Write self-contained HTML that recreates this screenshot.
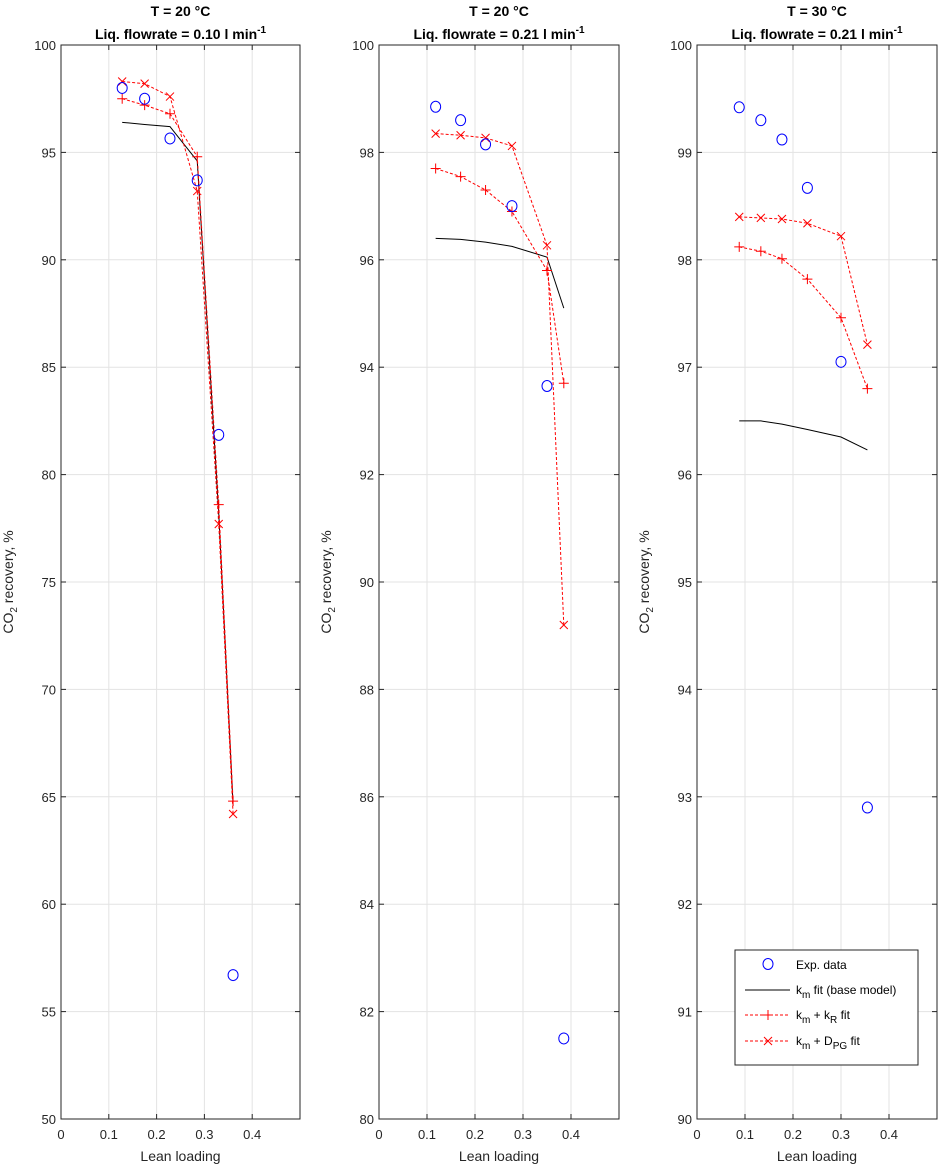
<!DOCTYPE html>
<html><head><meta charset="utf-8"><style>
body{margin:0;background:#fff;}
svg{display:block;font-family:"Liberation Sans",sans-serif;}
</style></head><body>
<svg id="chart" width="941" height="1167" xmlns="http://www.w3.org/2000/svg"></svg>
<script>
const xVals1=[0.128,0.175,0.228,0.285,0.33,0.36];
const exp1=[98.0,97.5,95.65,93.7,81.85,56.7];
const km1=[96.4,96.3,96.2,94.6,78.2,64.6];
const kr1=[97.5,97.2,96.8,94.8,78.6,64.8];
const dpg1=[98.3,98.2,97.6,93.2,77.7,64.2];
const xVals2=[0.118,0.17,0.222,0.277,0.35,0.385];
const exp2=[98.85,98.6,98.15,97.0,93.65,81.5];
const km2=[96.4,96.38,96.33,96.25,96.05,95.1];
const kr2=[97.7,97.55,97.3,96.9,95.8,93.7];
const dpg2=[98.35,98.32,98.27,98.12,96.27,89.2];
const xVals3=[0.088,0.133,0.177,0.23,0.3,0.355];
const exp3=[99.42,99.3,99.12,98.67,97.05,92.9];
const km3=[96.5,96.5,96.47,96.42,96.35,96.23];
const kr3=[98.12,98.08,98.01,97.82,97.46,96.8];
const dpg3=[98.4,98.39,98.38,98.34,98.22,97.21];
const xTicks=[0,0.1,0.2,0.3,0.4];
const yTicks1=[50,55,60,65,70,75,80,85,90,95,100];
const yTicks2=[80,82,84,86,88,90,92,94,96,98,100];
const yTicks3=[90,91,92,93,94,95,96,97,98,99,100];
const titles1=["T = 20 °C","T = 20 °C","T = 30 °C"];
const flows=["0.10","0.21","0.21"];

const NS="http://www.w3.org/2000/svg";
const svg=document.getElementById('chart');
function mk(tag,attrs,parent,text){const e=document.createElementNS(NS,tag);for(const k in attrs)e.setAttribute(k,attrs[k]);if(text!==undefined)e.textContent=text;(parent||svg).appendChild(e);return e;}

const panels=[
 {L:61,R:300,x:xVals1,exp:exp1,km:km1,kr:kr1,dpg:dpg1,yt:yTicks1},
 {L:379,R:619,x:xVals2,exp:exp2,km:km2,kr:kr2,dpg:dpg2,yt:yTicks2},
 {L:697,R:937,x:xVals3,exp:exp3,km:km3,kr:kr3,dpg:dpg3,yt:yTicks3}];
const T=45,B=1119;
panels.forEach((p,i)=>{
 const g=mk('g',{});
 
 
 const ymin=p.yt[0],ymax=p.yt[p.yt.length-1];
 const sx=v=>p.L+v/0.5*(p.R-p.L);
 const sy=v=>B-(v-ymin)/(ymax-ymin)*(B-T);
 xTicks.forEach(t=>{const x=sx(t);
  if(t>0)mk('line',{x1:x,x2:x,y1:T,y2:B,stroke:'#e3e3e3','stroke-width':1},g);
  mk('line',{x1:x,x2:x,y1:B,y2:B-5,stroke:'#262626'},g);mk('line',{x1:x,x2:x,y1:T,y2:T+5,stroke:'#262626'},g);
  const tl=mk('text',{x:x,y:B+20,'font-size':13,'text-anchor':'middle',fill:'#262626'},g,String(t));
  
  });
 p.yt.forEach(t=>{const y=sy(t);
  if(t>ymin&&t<ymax)mk('line',{x1:p.L,x2:p.R,y1:y,y2:y,stroke:'#e3e3e3'},g);
  mk('line',{x1:p.L,x2:p.L+5,y1:y,y2:y,stroke:'#262626'},g);mk('line',{x1:p.R,x2:p.R-5,y1:y,y2:y,stroke:'#262626'},g);
  const tl=mk('text',{x:p.L-5,y:y+5,'font-size':13,'text-anchor':'end',fill:'#262626'},g,String(t));
  
  });
 mk('rect',{x:p.L,y:T,width:p.R-p.L,height:B-T,fill:'none',stroke:'#262626'},g);
 const cx=(p.L+p.R)/2;
 const t1=mk('text',{x:cx,y:16,'font-size':14,'font-weight':'bold','text-anchor':'middle',fill:'#000'},g,titles1[i]);
 
 
 const t2=mk('text',{x:cx,y:39,'font-size':14,'font-weight':'bold','text-anchor':'middle',fill:'#000'},g);
 
 
 t2.innerHTML='Liq. flowrate = '+flows[i]+' l min<tspan dy="-6" font-size="10">-1</tspan>';
 const xl=mk('text',{x:cx,y:B+42,'font-size':14,'text-anchor':'middle',fill:'#262626'},g,'Lean loading');
 
 
 const yx=p.L-48,yy=(T+B)/2;
 const yl=mk('text',{x:yx,y:yy,'font-size':14,'text-anchor':'middle',fill:'#262626',transform:`rotate(-90 ${yx} ${yy})`},g);
 
 
 yl.innerHTML='CO<tspan dy="4" font-size="10">2</tspan><tspan dy="-4"> recovery, %</tspan>';
 const line=(arr,st,dash,name)=>{const pl=mk('polyline',{points:arr.map((v,j)=>sx(p.x[j])+','+sy(v)).join(' '),fill:'none',stroke:st,'stroke-width':1,'stroke-dasharray':dash},g);
  
  };
 line(p.km,'#000','', 'km-fit-line');
 line(p.kr,'#ff0000','3,2','km-kr-fit-line');
 line(p.dpg,'#ff0000','3,2','km-dpg-fit-line');
 p.kr.forEach((v,j)=>{const x=sx(p.x[j]),y=sy(v);
  const m=mk('path',{d:`M${x-5},${y}H${x+5}M${x},${y-5}V${y+5}`,stroke:'#ff0000',fill:'none'},g);
  
  });
 p.dpg.forEach((v,j)=>{const x=sx(p.x[j]),y=sy(v);
  const m=mk('path',{d:`M${x-4},${y-4}L${x+4},${y+4}M${x-4},${y+4}L${x+4},${y-4}`,stroke:'#ff0000',fill:'none'},g);
  
  });
 p.exp.forEach((v,j)=>{
  const c=mk('ellipse',{cx:sx(p.x[j]),cy:sy(v),rx:5,ry:5.5,fill:'none',stroke:'#0000ff'},g);
  
  });
});
// legend
const lg=mk('g',{});


mk('rect',{x:735,y:950,width:183,height:115,fill:'#fff',stroke:'#262626'},lg);
mk('ellipse',{cx:768,cy:964,rx:5,ry:5.5,fill:'none',stroke:'#0000ff'},lg);
mk('line',{x1:745,x2:790,y1:990,y2:990,stroke:'#000'},lg);
mk('line',{x1:745,x2:790,y1:1015,y2:1015,stroke:'#f00','stroke-dasharray':'3,2'},lg);
mk('path',{d:'M763,1015H773M768,1010V1020',stroke:'#f00'},lg);
mk('line',{x1:745,x2:790,y1:1041,y2:1041,stroke:'#f00','stroke-dasharray':'3,2'},lg);
mk('path',{d:'M764,1037L772,1045M764,1045L772,1037',stroke:'#f00'},lg);
const le=[[969,'Exp. data'],[994,'k<tspan dy="4" font-size="10">m</tspan><tspan dy="-4"> fit (base model)</tspan>'],[1019,'k<tspan dy="4" font-size="10">m</tspan><tspan dy="-4"> + k</tspan><tspan dy="4" font-size="10">R</tspan><tspan dy="-4"> fit</tspan>'],[1045,'k<tspan dy="4" font-size="10">m</tspan><tspan dy="-4"> + D</tspan><tspan dy="4" font-size="10">PG</tspan><tspan dy="-4"> fit</tspan>']];
le.forEach(([y,h])=>{const t=mk('text',{x:796,y:y,'font-size':12,fill:'#000'},lg);t.innerHTML=h;
 
 });
</script>
</body></html>
